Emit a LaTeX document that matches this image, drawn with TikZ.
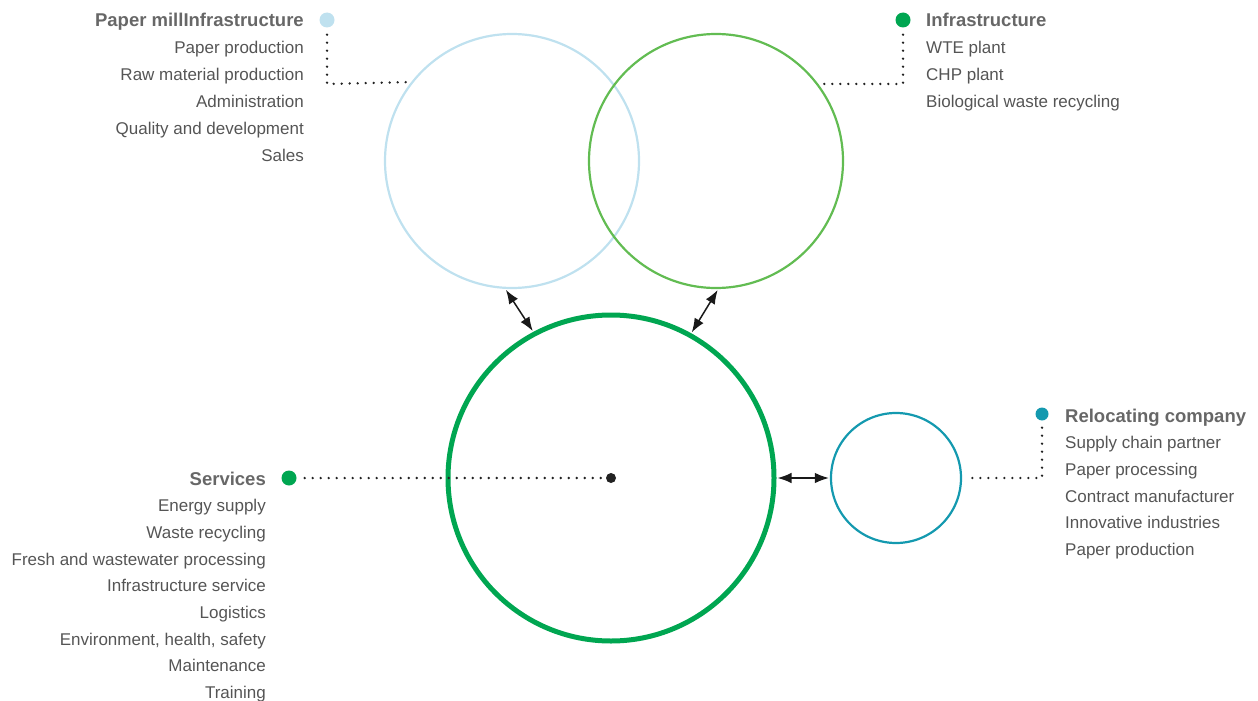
\documentclass[tikz,border=0pt]{standalone}
\usepackage{fontspec}
\setmainfont{Liberation Sans}
\usetikzlibrary{arrows.meta}
\definecolor{pmblue}{HTML}{BFE1EF}
\definecolor{infgreen}{HTML}{62BC52}
\definecolor{maingreen}{HTML}{00A651}
\definecolor{teal}{HTML}{1499AF}
\definecolor{txt}{HTML}{555555}
\definecolor{ttl}{HTML}{676767}
\definecolor{dotc}{HTML}{222222}
\tikzset{
  ring/.style={circle, draw, inner sep=0pt},
  bullet/.style={circle, fill, inner sep=0pt, minimum size=15pt},
  dotline/.style={draw=dotc, line width=2.6pt, line cap=round, dash pattern=on 0pt off 8pt},
  biarrow/.style={draw=black!90, line width=1.5pt, {Latex[length=14pt,width=10.5pt]}-{Latex[length=14pt,width=10.5pt]}},
  itemtxt/.style={text=txt, font=\fontsize{17}{20}\selectfont, inner sep=0pt},
  titletxt/.style={text=ttl, font=\fontsize{18.5}{22}\selectfont\bfseries, inner sep=0pt},
}
\begin{document}
\begin{tikzpicture}[x=1pt,y=-1pt]
\useasboundingbox (0,0) rectangle (1258,701);
% circles
\node[ring, draw=pmblue, line width=2.2pt, minimum size=254pt] (pmcirc) at (512,161) {};
\node[ring, draw=infgreen, line width=2.2pt, minimum size=254pt] (infcirc) at (716,161) {};
\node[ring, draw=maingreen, line width=5pt, minimum size=326pt] (main) at (611,478) {};
\node[ring, draw=teal, line width=2.2pt, minimum size=130pt] (reloc) at (896,478) {};
\node[circle, fill=dotc, inner sep=0pt, minimum size=10pt] (centre) at (611,478) {};
% bullets
\node[bullet, fill=pmblue] (pmdot) at (327,20) {};
\node[bullet, fill=maingreen] (infdot) at (903,20) {};
\node[bullet, fill=teal, minimum size=13pt] (relocdot) at (1042,414) {};
\node[bullet, fill=maingreen] (servdot) at (289,478) {};
% dotted connectors
\coordinate (pmcorner) at (327,84);
\coordinate (infcorner) at (903,84);
\coordinate (reloccorner) at (1042,478);
\draw[dotline] ([yshift=-7pt]pmdot.south) -- (pmcorner) -- ([xshift=-5pt]pmcirc.142.7);
\draw[dotline] ([yshift=-7pt]infdot.south) -- (infcorner) -- ([xshift=5pt]infcirc.37.3);
\draw[dotline] ([yshift=-7pt]relocdot.south) -- (reloccorner) -- ([xshift=5pt]reloc.east);
\draw[dotline] ([xshift=8pt]servdot.east) -- (centre);
% arrows
\draw[biarrow, shorten <=1pt, shorten >=1pt] (pmcirc.-93) -- (main.118.4);
\draw[biarrow, shorten <=1pt, shorten >=1pt] (infcirc.-89.5) -- (main.61.2);
\draw[biarrow, shorten <=1pt, shorten >=1pt] (main.east) -- (reloc.west);
% texts: paper mill
\node[titletxt, anchor=base east] (pmtitle) at (304,27) {Paper millInfrastructure};
\foreach \t [count=\i] in {Paper production, Raw material production, Administration, Quality and development, Sales}
  \node[itemtxt, anchor=base east] (pm\i) at (304,{27+26.8*\i}) {\t};
% infrastructure
\node[titletxt, anchor=base west] (inftitle) at (926,27) {Infrastructure};
\foreach \t [count=\i] in {WTE plant, CHP plant, Biological waste recycling}
  \node[itemtxt, anchor=base west] (inf\i) at (926,{27+26.8*\i}) {\t};
% relocating company
\node[titletxt, anchor=base west] (reloctitle) at (1065,422) {Relocating company};
\foreach \t [count=\i] in {Supply chain partner, Paper processing, Contract manufacturer, Innovative industries, Paper production}
  \node[itemtxt, anchor=base west] (rel\i) at (1065,{422+26.7*\i}) {\t};
% services
\node[titletxt, anchor=base east] (servtitle) at (266,485) {Services};
\foreach \t [count=\i] in {Energy supply, Waste recycling, Fresh and wastewater processing, Infrastructure service, Logistics, {Environment, health, safety}, Maintenance, Training}
  \node[itemtxt, anchor=base east] (serv\i) at (266,{485+26.7*\i}) {\t};
\end{tikzpicture}
\end{document}
